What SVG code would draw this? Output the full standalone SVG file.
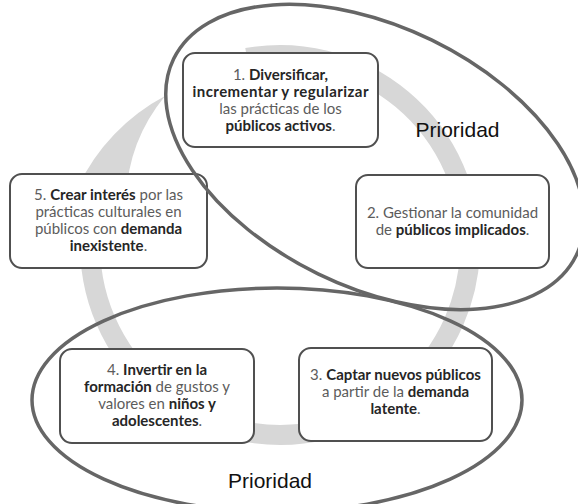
<svg xmlns="http://www.w3.org/2000/svg" width="578" height="504" viewBox="0 0 578 504">
<style>
.box{fill:#ffffff;stroke:#505050;stroke-width:2}
.t{font-family:Lato,"Open Sans","Liberation Sans",sans-serif;font-size:15px;fill:#5c5c5c;text-anchor:middle}
.b{font-weight:bold;fill:#262626}
.ring{fill:none;stroke:#d7d7d7;stroke-width:20}
.arrowhead{fill:#d7d7d7}
.ell{fill:none;stroke:#666666;stroke-width:3.5}
.pr{font-family:"Liberation Sans",Arial,sans-serif;font-size:21px;fill:#111111}
</style>
<rect width="578" height="504" fill="#ffffff"/>
<g id="connectors">
<path class="ring" d="M247,57.9 A190,190 0 1 1 101.5,180"/>
<path class="arrowhead" d="M78,187 A200,200 0 0 1 165,96 A172,172 0 0 0 126,198 Z"/>
</g>
<g id="node1">
<rect class="box" x="183" y="53" width="195" height="94" rx="12"/>
<text class="t" x="280.5" y="80">1. <tspan class="b">Diversificar,</tspan></text>
<text class="t" x="280.5" y="97" textLength="176" lengthAdjust="spacing"><tspan class="b">incrementar y regularizar</tspan></text>
<text class="t" x="280.5" y="114">las prácticas de los</text>
<text class="t" x="280.5" y="131"><tspan class="b">públicos activos</tspan>.</text>
</g>
<g id="node2">
<rect class="box" x="356" y="175" width="193" height="93" rx="12"/>
<text class="t" x="452.5" y="218">2. Gestionar la comunidad</text>
<text class="t" x="452.5" y="235">de <tspan class="b">públicos implicados</tspan>.</text>
</g>
<g id="node3">
<rect class="box" x="299" y="348" width="193" height="93" rx="12"/>
<text class="t" x="395.5" y="380">3. <tspan class="b">Captar nuevos públicos</tspan></text>
<text class="t" x="395.5" y="397">a partir de la <tspan class="b">demanda</tspan></text>
<text class="t" x="395.5" y="414"><tspan class="b">latente</tspan>.</text>
</g>
<g id="node4">
<rect class="box" x="60" y="349" width="194" height="94" rx="12"/>
<text class="t" x="157" y="375">4. <tspan class="b">Invertir en la</tspan></text>
<text class="t" x="157" y="392"><tspan class="b">formación</tspan> de gustos y</text>
<text class="t" x="157" y="409">valores en <tspan class="b">niños y</tspan></text>
<text class="t" x="157" y="426"><tspan class="b">adolescentes</tspan>.</text>
</g>
<g id="node5">
<rect class="box" x="10" y="174" width="197" height="94" rx="12"/>
<text class="t" x="108.5" y="200">5. <tspan class="b">Crear interés</tspan> por las</text>
<text class="t" x="108.5" y="217">prácticas culturales en</text>
<text class="t" x="108.5" y="234">públicos con <tspan class="b">demanda</tspan></text>
<text class="t" x="108.5" y="251"><tspan class="b">inexistente</tspan>.</text>
</g>
<g id="priority-top">
<ellipse class="ell" cx="375" cy="157" rx="224" ry="130" transform="rotate(26 375 157)"/>
<text class="pr" x="457.5" y="137" text-anchor="middle">Prioridad</text>
</g>
<g id="priority-bottom">
<ellipse class="ell" cx="277" cy="400" rx="245" ry="112"/>
<text class="pr" x="270" y="488" text-anchor="middle">Prioridad</text>
</g>
</svg>
